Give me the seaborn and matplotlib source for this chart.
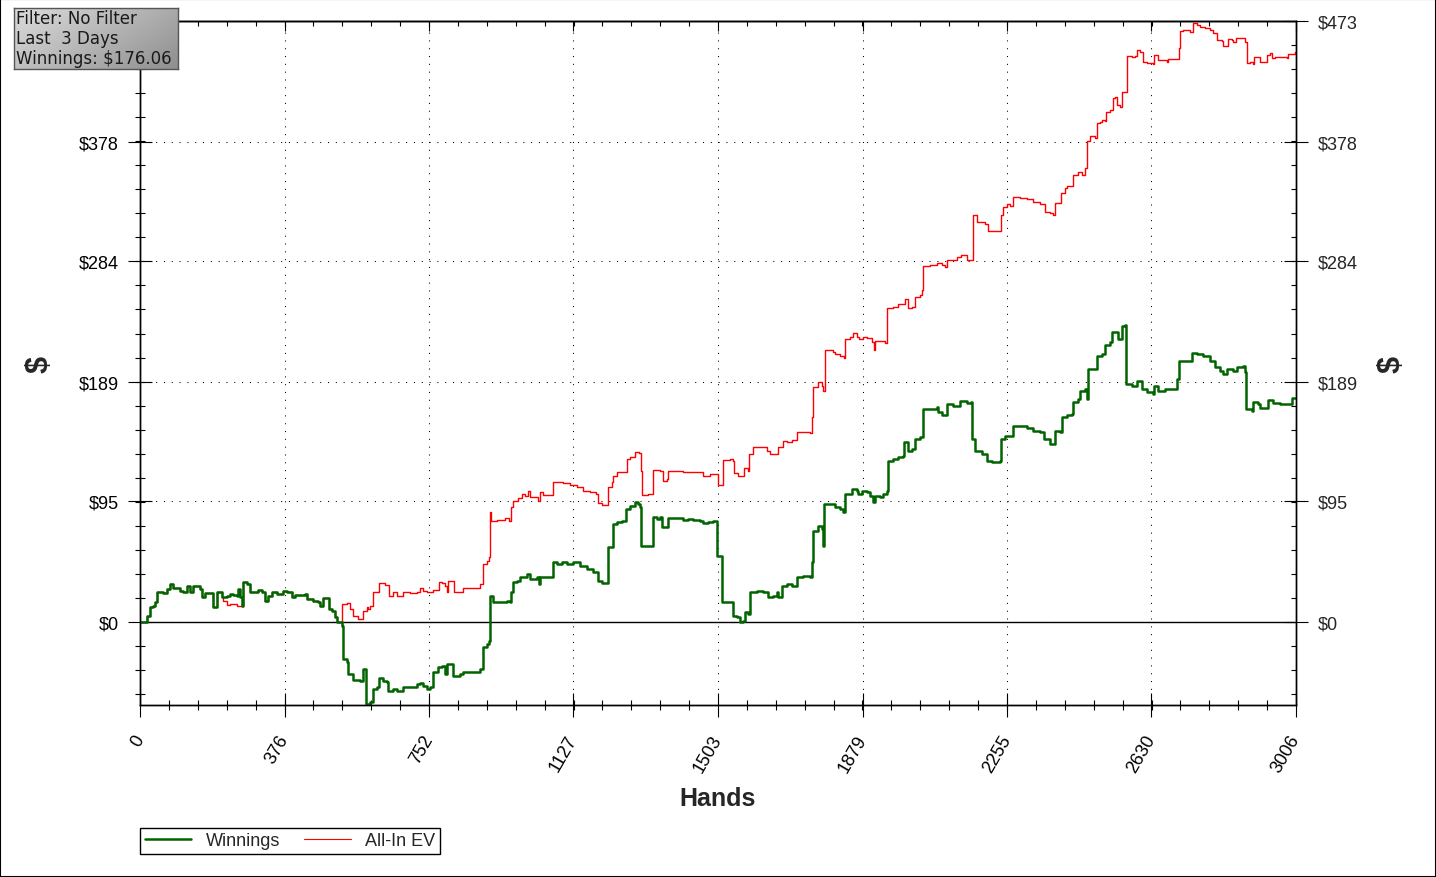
import numpy as np
import pandas as pd
import matplotlib
matplotlib.use("Agg")
import matplotlib.pyplot as plt
import seaborn as sns
from matplotlib.ticker import MultipleLocator, NullFormatter
from matplotlib.patches import Rectangle
from matplotlib.lines import Line2D

# axis ticks
x_ticks = [0, 376, 752, 1127, 1503, 1879, 2255, 2630, 3006]
y_ticks = [0, 95, 189, 284, 378, 473]
y_labels = ["$0", "$95", "$189", "$284", "$378", "$473"]

info_text = "Filter: No Filter\nLast  3 Days\nWinnings: $176.06"

# Winnings (hand, $), drawn as steps
win_points = [
    (0, 0), (8, 0), (18, 4.7), (26, 11.8), (34, 12.6), (39, 15.7), (44, 23.6), (60, 22.8),
    (70, 25.9), (78, 29.9), (86, 26.7), (104, 24.4), (112, 23.6), (122, 28.3), (130, 23.6),
    (138, 28.3), (156, 25.9), (161, 19.6), (169, 22.8), (190, 11.8), (200, 23.6), (213, 19.6),
    (226, 20.4), (234, 22.0), (242, 21.2), (252, 20.4), (255, 25.9), (260, 19.6), (265, 12.6),
    (268, 31.4), (278, 29.9), (286, 23.6), (307, 25.1), (317, 23.6), (325, 16.5), (333, 20.4),
    (343, 23.6), (356, 22.0), (372, 24.4), (382, 23.6), (395, 19.6), (403, 21.2), (429, 22.0),
    (434, 18.1), (450, 16.5), (463, 15.7), (468, 12.6), (476, 18.9), (491, 10.2), (499, 8.6),
    (507, 3.9), (512, 0), (525, -3.1), (528, -29.1), (538, -31.4), (541, -40.9), (554, -45.6),
    (572, -46.4), (580, -36.9), (588, -64.4), (598, -62.9), (606, -52.6), (616, -51.1),
    (621, -44.0), (632, -46.4), (642, -47.1), (645, -54.2), (658, -52.6), (668, -54.2),
    (684, -51.1), (720, -48.7), (728, -47.9), (736, -50.3), (746, -52.6), (754, -51.1),
    (762, -39.3), (775, -35.4), (785, -34.6), (793, -40.9), (798, -33.0), (814, -42.4),
    (832, -40.9), (840, -39.3), (884, -36.9), (892, -19.6), (902, -17.3), (907, -14.9),
    (910, 20.4), (918, 15.7), (954, 16.5), (962, 15.7), (965, 23.6), (970, 31.4), (980, 32.2),
    (988, 35.4), (1006, 37.7), (1014, 33.8), (1032, 35.4), (1037, 29.9), (1040, 35.4),
    (1074, 47.1), (1084, 45.6), (1097, 47.1), (1110, 45.6), (1126, 47.1), (1144, 44.0),
    (1162, 41.6), (1178, 39.3), (1191, 32.2), (1201, 30.6), (1217, 58.9), (1230, 77.0),
    (1240, 78.6), (1253, 79.4), (1264, 88.8), (1274, 91.1), (1287, 94.3), (1295, 92.7),
    (1300, 90.4), (1303, 59.7), (1334, 82.5), (1344, 80.9), (1352, 82.5), (1357, 74.6),
    (1373, 81.7), (1412, 80.1), (1425, 80.9), (1438, 80.1), (1456, 79.4), (1464, 77.8),
    (1477, 78.6), (1490, 79.4), (1500, 51.9), (1513, 15.7), (1542, 4.7), (1552, 3.9),
    (1560, 0), (1568, 0.8), (1573, 7.9), (1581, 6.3), (1586, 23.6), (1604, 24.4), (1620, 23.6),
    (1633, 19.6), (1646, 20.4), (1656, 23.6), (1659, 19.6), (1669, 28.3), (1682, 29.9),
    (1695, 28.3), (1708, 35.4), (1724, 36.1), (1742, 35.4), (1747, 47.1), (1750, 71.5),
    (1763, 75.4), (1773, 73.1), (1776, 59.7), (1779, 92.7), (1807, 90.4), (1820, 88.8),
    (1828, 86.4), (1833, 100.6), (1851, 104.5), (1864, 102.9), (1867, 100.6), (1877, 102.9),
    (1890, 102.1), (1898, 99.0), (1906, 94.3), (1911, 99.0), (1924, 98.2), (1932, 100.6),
    (1942, 102.9), (1945, 126.5), (1958, 128.1), (1971, 129.6), (1984, 130.4), (1987, 141.4),
    (1997, 134.4), (2007, 135.9), (2015, 143.8), (2028, 145.4), (2036, 167.4), (2072, 169.0),
    (2075, 165.0), (2085, 162.6), (2098, 171.3), (2114, 169.7), (2132, 173.6), (2150, 172.1),
    (2161, 172.9), (2163, 143.8), (2171, 134.4), (2189, 132.0), (2202, 126.5), (2215, 125.7),
    (2236, 126.5), (2239, 143.8), (2249, 146.1), (2270, 154.0), (2306, 152.4), (2322, 150.1),
    (2340, 149.3), (2351, 143.8), (2366, 139.9), (2379, 150.1), (2392, 149.3), (2397, 161.1),
    (2410, 162.6), (2423, 163.4), (2426, 172.9), (2439, 175.2), (2444, 181.5), (2457, 183.1),
    (2462, 175.2), (2465, 198.8), (2488, 209.0), (2501, 210.6), (2509, 218.4), (2522, 220.0),
    (2527, 227.9), (2535, 228.6), (2543, 222.4), (2553, 232.6), (2561, 233.4), (2564, 187.0),
    (2580, 185.4), (2592, 189.4), (2605, 183.1), (2618, 180.7), (2634, 179.1), (2637, 185.4),
    (2647, 181.5), (2665, 183.1), (2697, 190.9), (2702, 205.1), (2736, 212.1), (2749, 210.6),
    (2764, 209.0), (2782, 205.1), (2795, 200.4), (2808, 197.2), (2816, 194.9), (2827, 198.8),
    (2842, 197.2), (2853, 200.4), (2868, 201.2), (2873, 196.4), (2876, 167.4), (2892, 165.8),
    (2894, 172.9), (2907, 171.3), (2912, 168.1), (2933, 174.4), (2946, 172.1), (2964, 171.3),
    (2996, 176.06), (3006, 176.06),
]

# All-In EV: same as winnings up to hand 213 and between 268 and 512
ev_points_a = [(216, 16.5), (226, 13.4), (234, 14.1), (252, 12.6)]
ev_points_b = [
    (525, 14.1), (538, 14.9), (546, 10.2), (554, 4.7), (567, 2.4), (580, 8.6), (590, 11.8),
    (593, 10.2), (598, 12.6), (606, 23.6), (621, 30.6), (637, 29.1), (647, 20.4), (658, 23.6),
    (668, 20.4), (684, 23.6), (702, 22.8), (720, 23.6), (728, 26.7), (736, 24.4), (746, 23.6),
    (762, 25.1), (777, 31.4), (785, 30.6), (793, 28.3), (798, 23.6), (801, 32.2), (816, 23.6),
    (840, 26.7), (884, 29.9), (892, 45.6), (902, 48.1), (907, 51.1), (910, 86.4), (913, 79.4),
    (928, 80.1), (949, 81.7), (960, 79.4), (965, 90.4), (970, 95.1), (983, 97.4), (993, 100.6),
    (1001, 99.0), (1009, 102.9), (1014, 98.2), (1035, 95.1), (1040, 102.1), (1048, 99.8),
    (1074, 110.0), (1100, 109.2), (1118, 107.6), (1136, 106.1), (1152, 102.9), (1170, 102.1),
    (1186, 100.6), (1191, 93.5), (1201, 91.9), (1217, 106.1), (1227, 110.0), (1230, 114.7),
    (1240, 117.9), (1266, 128.1), (1274, 129.6), (1287, 133.6), (1298, 132.8), (1303, 118.6),
    (1305, 99.8), (1321, 100.6), (1334, 119.4), (1352, 118.6), (1360, 110.8), (1370, 112.4),
    (1373, 118.6), (1412, 117.9), (1464, 114.7), (1482, 116.3), (1503, 107.6), (1516, 127.3),
    (1534, 128.1), (1542, 126.5), (1545, 117.1), (1555, 114.7), (1571, 121.0), (1581, 118.6),
    (1584, 132.0), (1594, 137.5), (1630, 134.4), (1638, 132.0), (1659, 137.5), (1672, 142.2),
    (1682, 141.4), (1695, 142.9), (1708, 149.3), (1742, 148.5), (1747, 161.1), (1750, 184.6),
    (1763, 188.6), (1773, 185.4), (1776, 181.5), (1781, 213.7), (1802, 212.9), (1807, 210.6),
    (1820, 209.0), (1831, 207.4), (1833, 222.4), (1846, 224.7), (1854, 227.1), (1864, 224.7),
    (1870, 223.1), (1880, 224.7), (1890, 223.9), (1903, 220.0), (1909, 213.7), (1911, 220.8),
    (1937, 219.2), (1942, 247.5), (1958, 248.3), (1971, 250.6), (1989, 254.6), (1997, 247.5),
    (2007, 248.3), (2015, 256.1), (2028, 257.7), (2033, 261.6), (2036, 280.5), (2054, 281.3),
    (2072, 282.9), (2085, 281.3), (2093, 279.7), (2098, 285.2), (2124, 287.6), (2135, 289.1),
    (2150, 285.2), (2166, 320.6), (2176, 315.1), (2197, 313.5), (2205, 308.0), (2239, 320.6),
    (2244, 326.9), (2254, 329.2), (2262, 327.6), (2270, 334.7), (2288, 333.9), (2306, 333.1),
    (2322, 330.8), (2340, 329.2), (2353, 322.9), (2366, 322.1), (2374, 320.6), (2379, 330.0),
    (2395, 337.8), (2405, 341.8), (2410, 343.3), (2426, 352.0), (2439, 354.0), (2449, 352.0),
    (2457, 357.5), (2462, 378.7), (2470, 382.6), (2483, 381.1), (2488, 392.9), (2496, 393.6),
    (2501, 395.2), (2509, 394.4), (2512, 401.5), (2522, 403.1), (2530, 412.5), (2535, 413.3),
    (2540, 407.0), (2548, 405.4), (2553, 417.2), (2566, 445.5), (2580, 444.7), (2587, 445.5),
    (2592, 450.2), (2600, 448.6), (2608, 440.8), (2618, 440.0), (2634, 439.2), (2637, 446.3),
    (2647, 442.4), (2670, 440.8), (2673, 443.2), (2702, 451.8), (2704, 465.1), (2712, 465.9),
    (2730, 464.4), (2738, 471.4), (2749, 469.9), (2756, 468.3), (2769, 467.5), (2782, 465.9),
    (2790, 463.6), (2801, 458.1), (2814, 457.3), (2816, 453.3), (2830, 458.9), (2840, 458.1),
    (2842, 456.5), (2850, 459.7), (2873, 456.5), (2879, 440.0), (2886, 440.8), (2894, 439.2),
    (2897, 444.7), (2912, 440.8), (2931, 446.3), (2938, 447.9), (2944, 443.9), (2951, 444.7),
    (2983, 443.9), (2985, 447.1), (3003, 448.6), (3006, 448.6),
]

win = pd.DataFrame(win_points, columns=["hand", "value"])
ev = pd.concat([
    win[win.hand <= 213],
    pd.DataFrame(ev_points_a, columns=["hand", "value"]),
    win[(win.hand >= 268) & (win.hand <= 512)],
    pd.DataFrame(ev_points_b, columns=["hand", "value"]),
], ignore_index=True)

green = "#006400"
red = "#ff0000"

sns.set_style("white")
plt.rcParams["font.family"] = ["Liberation Sans", "DejaVu Sans"]
plt.rcParams["text.parse_math"] = False

W, H = 1436, 878
fig = plt.figure(figsize=(W / 100, H / 100), dpi=100)
fig.patch.set_facecolor("white")
ax = fig.add_axes([140 / W, 1 - 706 / H, 1156 / W, 684 / H])

sns.lineplot(data=ev, x="hand", y="value", drawstyle="steps-post", color=red, lw=1.0,
             estimator=None, ax=ax, zorder=3, legend=False)
sns.lineplot(data=win, x="hand", y="value", drawstyle="steps-post", color=green, lw=1.8,
             estimator=None, ax=ax, zorder=4, legend=False)
ax.axhline(0, color="black", lw=1.0, zorder=2)

ax.set_xlim(0, 3006)
ax.set_ylim(-65.3, 473)
ax.set_xlabel("Hands", fontsize=18, fontweight="bold")
ax.xaxis.set_label_coords(0.5, -0.118)
ax.set_ylabel("")
ax.grid(True, which="major", color="black", lw=0.75, ls=(0, (1, 6.5)))

for s in ax.spines.values():
    s.set_color("black")
    s.set_linewidth(1.0)

ax.set_xticks(x_ticks)
ax.set_xticklabels([str(v) for v in x_ticks], rotation=60, ha="right", va="center",
                   rotation_mode="anchor")
ax.xaxis.set_minor_locator(MultipleLocator(3006 / 40))
ax.set_yticks(y_ticks)
# the top-left label sits under the filter box in the original
ax.set_yticklabels(y_labels[:-1] + [""])
ax.yaxis.set_minor_locator(MultipleLocator(473 / 25))
ax.tick_params(which="major", direction="inout", length=17, width=0.8, color="black",
               labelsize=13, labelcolor="black")
ax.tick_params(axis="x", which="major", pad=14)
ax.tick_params(axis="y", which="major", pad=7)
ax.tick_params(which="minor", direction="inout", length=7, width=0.8, color="black")
ax.tick_params(left=True, bottom=True, right=False, top=False)
ax.tick_params(which="minor", left=True, bottom=True, right=False, top=False)

# right side axis
ax2 = ax.twinx()
ax2.set_ylim(ax.get_ylim())
ax2.set_yticks(y_ticks)
ax2.set_yticklabels(y_labels)
ax2.yaxis.set_minor_locator(MultipleLocator(473 / 25))
ax2.tick_params(which="major", direction="inout", length=17, width=0.8, color="black",
                labelsize=13, pad=7)
ax2.tick_params(which="minor", direction="in", length=3.6, width=0.8, color="black")
ax2.grid(False)
for s in ax2.spines.values():
    s.set_color("black")
    s.set_linewidth(1.0)

# top ticks
top = ax.secondary_xaxis("top")
top.set_xticks(x_ticks)
top.xaxis.set_major_formatter(NullFormatter())
top.xaxis.set_minor_locator(MultipleLocator(3006 / 40))
top.tick_params(which="major", direction="in", length=7.2, width=0.8, color="black")
top.tick_params(which="minor", direction="in", length=3.6, width=0.8, color="black")
top.spines["top"].set_linewidth(1.0)

fig.text(40 / W, 1 - 365 / H, "$", rotation=90, fontsize=22, fontweight="bold",
         ha="center", va="center")
fig.text(1392 / W, 1 - 365 / H, "$", rotation=90, fontsize=22, fontweight="bold",
         ha="center", va="center")

handles = [Line2D([], [], color=green, lw=1.8), Line2D([], [], color=red, lw=0.8)]
leg = fig.legend(handles, ["Winnings", "All-In EV"], loc="lower left",
                 bbox_to_anchor=(140 / W, 1 - 855 / H), ncol=2, frameon=True,
                 fancybox=False, shadow=False, edgecolor="black", framealpha=1,
                 fontsize=13, handlelength=2.6, handletextpad=0.8, columnspacing=1.3,
                 borderpad=0.25, borderaxespad=0)
leg.get_frame().set_linewidth(1.0)

# filter info box
bax = fig.add_axes([14 / W, 1 - 70 / H, 164 / W, 61 / H])
gx = np.linspace(0, 1, 200)
gy = np.linspace(0, 1, 60)
shade = 0.86 - 0.30 * (0.65 * gx[None, :] + 0.35 * gy[:, None])
bax.imshow(shade, cmap="gray", vmin=0, vmax=1, aspect="auto", extent=(0, 1, 0, 1))
bax.set_xticks([])
bax.set_yticks([])
for s in bax.spines.values():
    s.set_color("#555555")
    s.set_linewidth(1.0)
bax.text(0.015, 0.98, info_text, ha="left", va="top", fontsize=12, family="DejaVu Sans",
         linespacing=1.12, color="#1a1a1a", transform=bax.transAxes)

fig.add_artist(Rectangle((0, 0), 1, 1, transform=fig.transFigure, fill=False,
                         lw=1.5, ec="black"))

fig.savefig("out.png", dpi=100)
